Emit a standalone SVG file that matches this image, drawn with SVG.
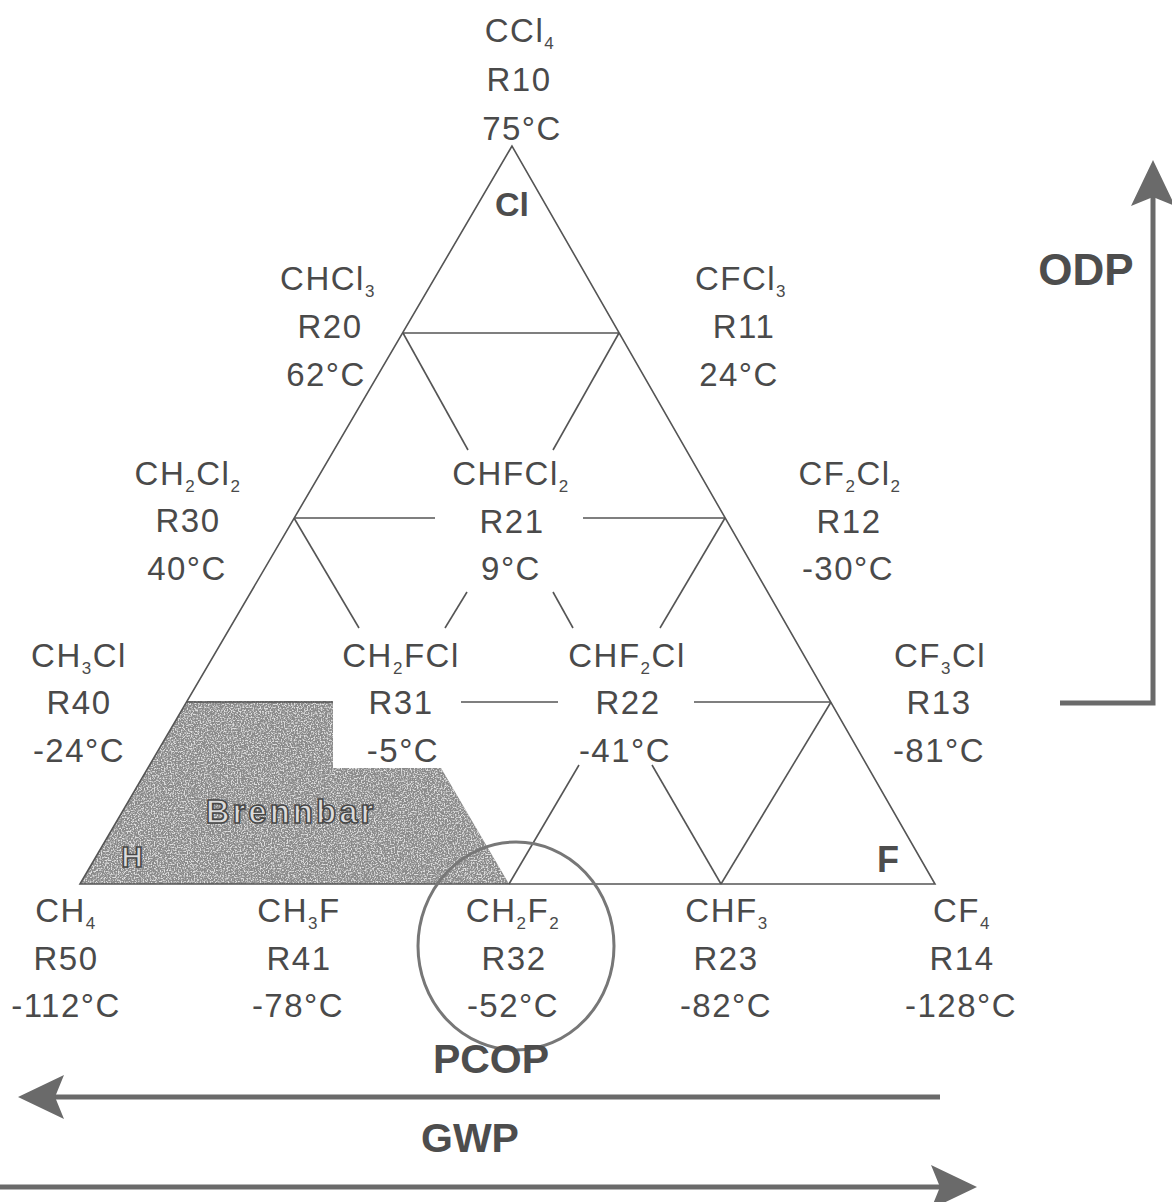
<svg xmlns="http://www.w3.org/2000/svg" width="1172" height="1202" viewBox="0 0 1172 1202">
<style>
.lbl{font-family:"Liberation Sans",Arial,sans-serif;font-size:33px;letter-spacing:1.5px;fill:#4a4a4a;text-anchor:middle}
.sub{font-size:17px}
.big{font-family:"Liberation Sans",Arial,sans-serif;font-weight:bold;fill:#4d4d4d;text-anchor:middle}
.edge{stroke:#555;stroke-width:1.6;fill:none}
.arr{stroke:#6a6a6a;stroke-width:5;fill:none}
.hollow{font-family:"Liberation Sans",Arial,sans-serif;font-weight:bold;fill:#dcdcdc;stroke:#474747;stroke-width:1.6;text-anchor:middle}
</style>
<defs>
<marker id="head" markerUnits="userSpaceOnUse" viewBox="0 0 46 44" markerWidth="46" markerHeight="44" refX="24" refY="22" orient="auto">
<path d="M0,0 L46,22 L0,44 L9,22 z" fill="#6a6a6a"/>
</marker>
<filter id="grain" x="0" y="0" width="1" height="1" color-interpolation-filters="sRGB">
<feTurbulence type="fractalNoise" baseFrequency="0.7" numOctaves="2" seed="7" result="n"/>
<feColorMatrix in="n" type="matrix" values="0 0 0 0 0.88  0 0 0 0 0.88  0 0 0 0 0.88  0 0 0 4 -1.8" result="dots"/>
<feComposite in="dots" in2="SourceGraphic" operator="in" result="d2"/>
<feMerge><feMergeNode in="SourceGraphic"/><feMergeNode in="d2"/></feMerge>
</filter>
</defs>
<rect width="1172" height="1202" fill="#fff"/>

<g id="brennbar">
<polygon points="187,701 333,701 333,768 441,768 509,884 80,884" fill="#8a8a8a" filter="url(#grain)"/>
<text class="hollow" x="291" y="823" font-size="33" letter-spacing="3">Brennbar</text>
<text class="hollow" x="132" y="867" font-size="30">H</text>
</g>

<g id="connectors">
<polygon class="edge" points="512,146 80,884 935,884"/>
<line class="edge" x1="403" y1="333" x2="619" y2="333"/>
<line class="edge" x1="403" y1="333" x2="468" y2="450"/>
<line class="edge" x1="619" y1="333" x2="553" y2="450"/>
<line class="edge" x1="294" y1="518" x2="435" y2="518"/>
<line class="edge" x1="583" y1="518" x2="725" y2="518"/>
<line class="edge" x1="294" y1="518" x2="359" y2="628"/>
<line class="edge" x1="467" y1="592" x2="445" y2="628"/>
<line class="edge" x1="553" y1="592" x2="573" y2="628"/>
<line class="edge" x1="725" y1="518" x2="660" y2="628"/>
<line class="edge" x1="187" y1="702" x2="333" y2="702"/>
<line class="edge" x1="461" y1="702" x2="558" y2="702"/>
<line class="edge" x1="694" y1="702" x2="831" y2="702"/>
<line class="edge" x1="579" y1="765" x2="509" y2="884"/>
<line class="edge" x1="652" y1="765" x2="721" y2="884"/>
<line class="edge" x1="831" y1="702" x2="721" y2="884"/>
<ellipse cx="516" cy="946" rx="98" ry="104" fill="none" stroke="#777" stroke-width="3"/>
<polyline class="arr" points="1060,703 1153,703 1153,182" marker-end="url(#head)"/>
<line class="arr" x1="940" y1="1097" x2="40" y2="1097" marker-end="url(#head)"/>
<line class="arr" x1="0" y1="1187" x2="955" y2="1187" marker-end="url(#head)"/>
</g>

<g id="axis-labels">
<text class="big" x="512" y="216" font-size="34">Cl</text>
<text class="big" x="888" y="872" font-size="36">F</text>
<text class="big" x="1086" y="285" font-size="44">ODP</text>
<text class="big" x="491" y="1073" font-size="41">PCOP</text>
<text class="big" x="470" y="1152" font-size="41">GWP</text>
</g>

<g id="n-r10"><text class="lbl" x="520" y="42">CCl<tspan class="sub" dy="7">4</tspan></text><text class="lbl" x="519" y="91">R10</text><text class="lbl" x="522" y="140">75°C</text></g>
<g id="n-r20"><text class="lbl" x="328" y="290">CHCl<tspan class="sub" dy="7">3</tspan></text><text class="lbl" x="330" y="338">R20</text><text class="lbl" x="326" y="386">62°C</text></g>
<g id="n-r11"><text class="lbl" x="741" y="290">CFCl<tspan class="sub" dy="7">3</tspan></text><text class="lbl" x="744" y="338">R11</text><text class="lbl" x="739" y="386">24°C</text></g>
<g id="n-r30"><text class="lbl" x="188" y="485">CH<tspan class="sub" dy="7">2</tspan><tspan dy="-7">Cl</tspan><tspan class="sub" dy="7">2</tspan></text><text class="lbl" x="188" y="532">R30</text><text class="lbl" x="187" y="580">40°C</text></g>
<g id="n-r21"><text class="lbl" x="511" y="485">CHFCl<tspan class="sub" dy="7">2</tspan></text><text class="lbl" x="512" y="533">R21</text><text class="lbl" x="511" y="580">9°C</text></g>
<g id="n-r12"><text class="lbl" x="850" y="485">CF<tspan class="sub" dy="7">2</tspan><tspan dy="-7">Cl</tspan><tspan class="sub" dy="7">2</tspan></text><text class="lbl" x="849" y="533">R12</text><text class="lbl" x="848" y="580">-30°C</text></g>
<g id="n-r40"><text class="lbl" x="79" y="667">CH<tspan class="sub" dy="7">3</tspan><tspan dy="-7">Cl</tspan></text><text class="lbl" x="79" y="714">R40</text><text class="lbl" x="79" y="762">-24°C</text></g>
<g id="n-r31"><text class="lbl" x="401" y="667">CH<tspan class="sub" dy="7">2</tspan><tspan dy="-7">FCl</tspan></text><text class="lbl" x="401" y="714">R31</text><text class="lbl" x="403" y="762">-5°C</text></g>
<g id="n-r22"><text class="lbl" x="627" y="667">CHF<tspan class="sub" dy="7">2</tspan><tspan dy="-7">Cl</tspan></text><text class="lbl" x="628" y="714">R22</text><text class="lbl" x="625" y="762">-41°C</text></g>
<g id="n-r13"><text class="lbl" x="940" y="667">CF<tspan class="sub" dy="7">3</tspan><tspan dy="-7">Cl</tspan></text><text class="lbl" x="939" y="714">R13</text><text class="lbl" x="939" y="762">-81°C</text></g>
<g id="n-r50"><text class="lbl" x="66" y="922">CH<tspan class="sub" dy="7">4</tspan></text><text class="lbl" x="66" y="970">R50</text><text class="lbl" x="66" y="1017">-112°C</text></g>
<g id="n-r41"><text class="lbl" x="299" y="922">CH<tspan class="sub" dy="7">3</tspan><tspan dy="-7">F</tspan></text><text class="lbl" x="299" y="970">R41</text><text class="lbl" x="298" y="1017">-78°C</text></g>
<g id="n-r32"><text class="lbl" x="513" y="922">CH<tspan class="sub" dy="7">2</tspan><tspan dy="-7">F</tspan><tspan class="sub" dy="7">2</tspan></text><text class="lbl" x="514" y="970">R32</text><text class="lbl" x="513" y="1017">-52°C</text></g>
<g id="n-r23"><text class="lbl" x="727" y="922">CHF<tspan class="sub" dy="7">3</tspan></text><text class="lbl" x="726" y="970">R23</text><text class="lbl" x="726" y="1017">-82°C</text></g>
<g id="n-r14"><text class="lbl" x="962" y="922">CF<tspan class="sub" dy="7">4</tspan></text><text class="lbl" x="962" y="970">R14</text><text class="lbl" x="961" y="1017">-128°C</text></g>
</svg>
